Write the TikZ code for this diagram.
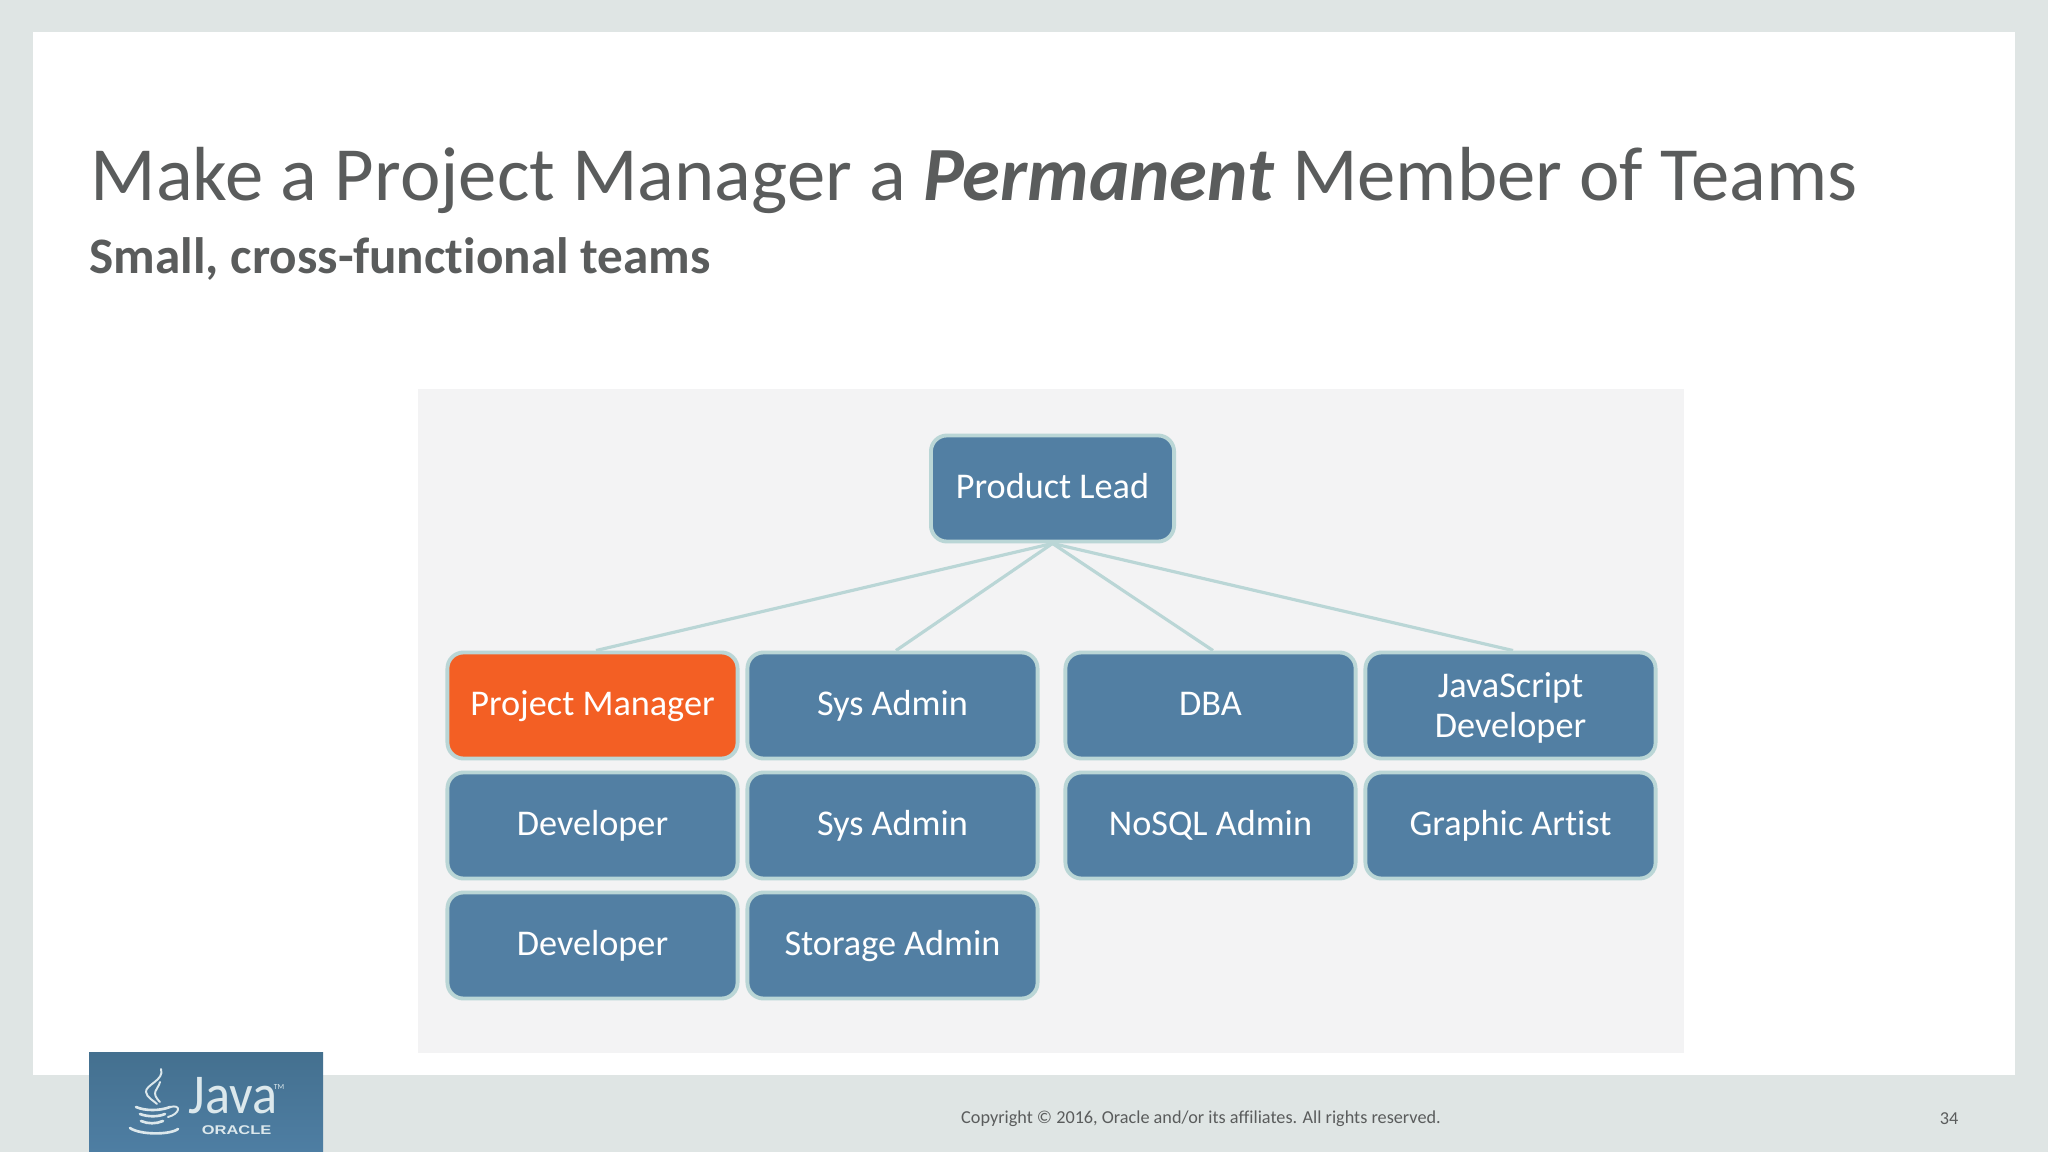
\documentclass[tikz,border=0pt]{standalone}
\usepackage{fontspec}
\usepackage{xcolor}
\setmainfont[RawFeature=-liga]{Carlito}
\newfontfamily\logofont{Liberation Sans}
\definecolor{framegray}{HTML}{DFE5E4}
\definecolor{panelgray}{HTML}{F3F3F4}
\definecolor{textgray}{HTML}{5A5C5C}
\definecolor{boxblue}{HTML}{527FA3}
\definecolor{boxorange}{HTML}{F35F24}
\definecolor{boxline}{HTML}{BAD6D6}
\definecolor{logotop}{HTML}{44708F}
\definecolor{logomid}{HTML}{4E7EA3}
\definecolor{logoink}{HTML}{DCE8EC}
\newcommand{\boxstrut}{\rule[-1mm]{0pt}{4mm}}
\tikzset{
  teambox/.style={draw=boxline,line width=1.1pt,fill=boxblue,rounded corners=0.16cm,text=white,
    minimum width=2.90cm,minimum height=1.06cm,inner sep=0pt,align=center,font=\fontsize{10.3}{11.2}\selectfont,
    execute at begin node=\boxstrut},
  leadbox/.style={teambox,minimum width=2.43cm},
  pmbox/.style={teambox,fill=boxorange},
  link/.style={draw=boxline,line width=0.9pt},
  slidetext/.style={text=textgray,inner sep=0pt,anchor=base west},
  steam/.style={draw=logoink,line width=0.55pt,line cap=round},
  cupline/.style={draw=logoink,line width=0.75pt,line cap=round}
}
\begin{document}
\begin{tikzpicture}[x=0.01cm,y=-0.01cm]
  \useasboundingbox (0,0) rectangle (2048,1152);
  % slide frame and panels
  \fill[framegray] (0,0) rectangle (2048,1152);
  \fill[white] (33,32) rectangle (2015,1075);
  \fill[panelgray] (418,389) rectangle (1684,1053);

  % headings
  \node[slidetext,font=\fontsize{21.8}{24}\selectfont] (title) at (90,201) {Make a Project Manager a \textbf{\textit{Permanent}} Member of Teams};
  \node[slidetext,font=\fontsize{14.55}{16}\selectfont\bfseries] (subtitle) at (89,274) {Small, cross-functional teams};

  % org chart
  \node[leadbox] (lead) at (1052.5,488.5) {Product Lead};

  \node[pmbox] (pm) at (592.5,705.5) {Project Manager};
  \node[teambox] (sysa) at (892.5,705.5) {Sys Admin};
  \node[teambox] (dba) at (1210.5,705.5) {DBA};
  \node[teambox] (jsdev) at (1510.5,705.5) {\rule{0pt}{3.4mm}JavaScript\\Developer};

  \node[teambox] (devone) at (592.5,825.5) {Developer};
  \node[teambox] (sysb) at (892.5,825.5) {Sys Admin};
  \node[teambox] (nosql) at (1210.5,825.5) {NoSQL Admin};
  \node[teambox] (artist) at (1510.5,825.5) {Graphic Artist};

  \node[teambox] (devtwo) at (592.5,945.5) {Developer};
  \node[teambox] (storage) at (892.5,945.5) {Storage Admin};

  \draw[link] (lead.south) -- ([xshift=0.035cm]pm.north);
  \draw[link] (lead.south) -- ([xshift=0.035cm]sysa.north);
  \draw[link] (lead.south) -- ([xshift=0.025cm]dba.north);
  \draw[link] (lead.south) -- ([xshift=0.025cm]jsdev.north);

  % footer
  \node[text=textgray,inner sep=0pt,font=\fontsize{5.18}{6}\selectfont] (copy) at (1201,1119) {Copyright © 2016, Oracle and/or its affiliates. All rights reserved.};
  \node[text=textgray,inner sep=0pt,font=\fontsize{5.18}{6}\selectfont] (pageno) at (1949,1119) {34};

  % java logo
  \fill[top color=logotop,bottom color=logomid] (89,1052) rectangle (323,1152);
  \draw[steam] (161,1069) .. controls (165,1080) and (145,1085) .. (146,1092) .. controls (147,1098) and (153,1100) .. (157,1104);
  \draw[steam] (160,1082) .. controls (158,1090) and (150,1092) .. (160,1102);
  \draw[cupline] (136,1107) .. controls (145,1111) and (160,1111) .. (170,1107);
  \draw[steam] (170,1107) .. controls (182,1104) and (180,1114) .. (168,1117);
  \draw[cupline] (140,1114) .. controls (148,1117) and (158,1117) .. (165,1114);
  \draw[cupline] (141,1121) .. controls (148,1124) and (156,1124) .. (163,1121);
  \draw[cupline] (130,1128) .. controls (140,1135) and (170,1135) .. (178,1129);
  \node[text=logoink,inner sep=0pt,anchor=base west,text depth=0pt,xscale=0.93,font=\fontsize{16}{18}\selectfont] (javaword) at (188,1113) {Java};
  \node[text=logoink,inner sep=0pt,font=\fontsize{2.2}{3}\selectfont] (tmark) at (279,1087) {TM};
  \node[text=logoink,inner sep=0pt,anchor=base west,xscale=1.3,font=\logofont\bfseries\fontsize{3.6}{4}\selectfont] (oracleword) at (201,1134) {ORACLE};
\end{tikzpicture}
\end{document}
